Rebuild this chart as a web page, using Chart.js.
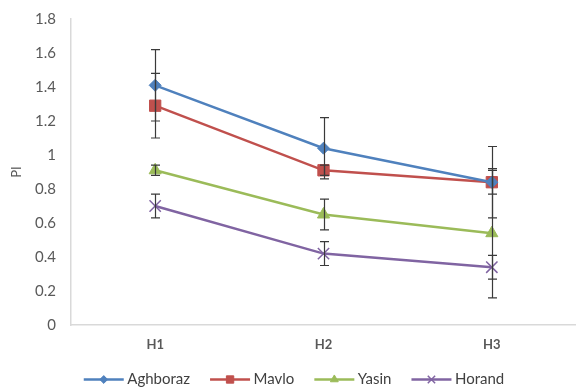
<!DOCTYPE html>
<html>
<head>
<meta charset="utf-8">
<script src="https://cdn.jsdelivr.net/npm/chart.js@4/dist/chart.umd.min.js"></script>
<style>
  html, body { margin: 0; padding: 0; background: #ffffff; }
  #wrap { width: 576px; height: 390px; position: relative; }
</style>
</head>
<body>
<div id="wrap"><canvas id="c" width="576" height="390"></canvas></div>
<script>
// Stations sampled at three horizons
const categories = ['H1', 'H2', 'H3'];
const seriesNames = ['Aghboraz', 'Mavlo', 'Yasin', 'Horand'];

// Mean PI per horizon
const aghboraz = [1.41, 1.04, 0.84];
const mavlo    = [1.29, 0.91, 0.84];
const yasin    = [0.91, 0.65, 0.54];
const horand   = [0.70, 0.42, 0.34];

// Standard error (±) per horizon
const aghborazErr = [0.21, 0.18, 0.21];
const mavloErr    = [0.19, 0.03, 0.07];
const yasinErr    = [0.03, 0.09, 0.38];
const horandErr   = [0.07, 0.07, 0.07];

// Y axis ticks
const yTicks = [0, 0.2, 0.4, 0.6, 0.8, 1, 1.2, 1.4, 1.6, 1.8];

const colors = ['#4F81BD', '#C0504D', '#9BBB59', '#8064A2'];
const markers = ['rectRot', 'rect', 'triangle', 'crossRot'];
const markerRadius = [6, 8, 7, 8];
const values = [aghboraz, mavlo, yasin, horand];
const errors = [aghborazErr, mavloErr, yasinErr, horandErr];

const FONT = 'Lato, "Open Sans", sans-serif';
const KEY_LINE = 40;   // length of the line drawn in each legend key

// Vertical error bars with caps, drawn on top of the series
const errorBars = {
  id: 'errorBars',
  afterDatasetsDraw(chart) {
    const ctx = chart.ctx;
    const y = chart.scales.y;
    ctx.save();
    ctx.strokeStyle = '#3a3a3a';
    ctx.lineWidth = 1.2;
    chart.data.datasets.forEach((ds, i) => {
      const meta = chart.getDatasetMeta(i);
      meta.data.forEach((pt, j) => {
        const v = ds.data[j], e = ds.err[j];
        const x = Math.round(pt.x) + 0.5;
        const yt = y.getPixelForValue(v + e);
        const yb = y.getPixelForValue(v - e);
        ctx.beginPath();
        ctx.moveTo(x, yt); ctx.lineTo(x, yb);
        ctx.moveTo(x - 4.5, yt); ctx.lineTo(x + 4.5, yt);
        ctx.moveTo(x - 4.5, yb); ctx.lineTo(x + 4.5, yb);
        ctx.stroke();
      });
    });
    ctx.restore();
  }
};

// Legend keys drawn as a short line with the series marker on it
const legendKeys = {
  id: 'legendKeys',
  afterDraw(chart) {
    const lg = chart.legend;
    if (!lg || !lg.legendHitBoxes) return;
    const ctx = chart.ctx;
    lg.legendHitBoxes.forEach((hb, i) => {
      const ds = chart.data.datasets[i];
      const cy = hb.top + hb.height / 2;
      const x0 = hb.left, x1 = hb.left + KEY_LINE;
      ctx.save();
      ctx.strokeStyle = ds.borderColor;
      ctx.lineWidth = 2.5;
      ctx.beginPath();
      ctx.moveTo(x0, cy); ctx.lineTo(x1, cy);
      ctx.stroke();
      ctx.fillStyle = ds.borderColor;
      ctx.lineWidth = ds.pointStyle === 'crossRot' ? 1.5 : 1;
      Chart.helpers.drawPoint(ctx, {
        pointStyle: ds.pointStyle,
        radius: ds.pointRadius * 0.65,
        borderWidth: ctx.lineWidth
      }, (x0 + x1) / 2, cy);
      ctx.restore();
    });
  }
};

const datasets = seriesNames.map((name, i) => ({
  label: name,
  data: values[i],
  err: errors[i],
  borderColor: colors[i],
  backgroundColor: colors[i],
  borderWidth: 2.5,
  pointStyle: markers[i],
  pointRadius: markerRadius[i],
  pointBorderWidth: markers[i] === 'crossRot' ? 1.5 : 1,
  pointBackgroundColor: colors[i],
  pointBorderColor: colors[i],
  tension: 0,
  fill: false
}));

new Chart(document.getElementById('c'), {
  type: 'line',
  data: { labels: categories, datasets },
  options: {
    responsive: false,
    animation: false,
    devicePixelRatio: 1,
    layout: { autoPadding: false, padding: { left: 12, right: 0, top: 19, bottom: -7 } },
    plugins: {
      tooltip: { enabled: false },
      legend: {
        position: 'bottom',
        labels: {
          boxWidth: 36,
          boxHeight: 12,
          padding: 20,
          color: '#404040',
          font: { family: FONT, size: 15 },
          generateLabels(chart) {
            return chart.data.datasets.map((ds, i) => ({
              text: ds.label,
              fillStyle: 'rgba(0,0,0,0)',
              strokeStyle: 'rgba(0,0,0,0)',
              lineWidth: 0,
              datasetIndex: i,
              fontColor: '#404040'
            }));
          }
        }
      }
    },
    scales: {
      x: {
        type: 'category',
        offset: true,
        grid: { display: false, drawTicks: false },
        border: { display: true, color: '#D9D9D9', width: 1.5 },
        ticks: {
          color: '#595959',
          padding: 12,
          font: { family: FONT, size: 13, weight: 'bold' }
        },
        afterFit(scale) {
          scale.height = 27;
          scale.paddingLeft = 0;
          scale.paddingRight = 0;
        }
      },
      y: {
        min: 0,
        max: 1.8,
        afterBuildTicks(scale) { scale.ticks = yTicks.map(v => ({ value: v })); },
        grid: { display: false, drawTicks: false },
        border: { display: true, color: '#D9D9D9', width: 1.5 },
        ticks: {
          color: '#595959',
          padding: 15,
          font: { family: FONT, size: 15 },
          callback: v => String(v)
        },
        title: {
          display: true,
          text: 'PI',
          color: '#595959',
          font: { family: FONT, size: 13 },
          padding: { top: -3, bottom: 0 }
        },
        afterFit(scale) {
          scale.width = 59;
          scale.paddingTop = 0;
          scale.paddingBottom = 0;
        }
      }
    }
  },
  plugins: [errorBars, legendKeys]
});
</script>
</body>
</html>
